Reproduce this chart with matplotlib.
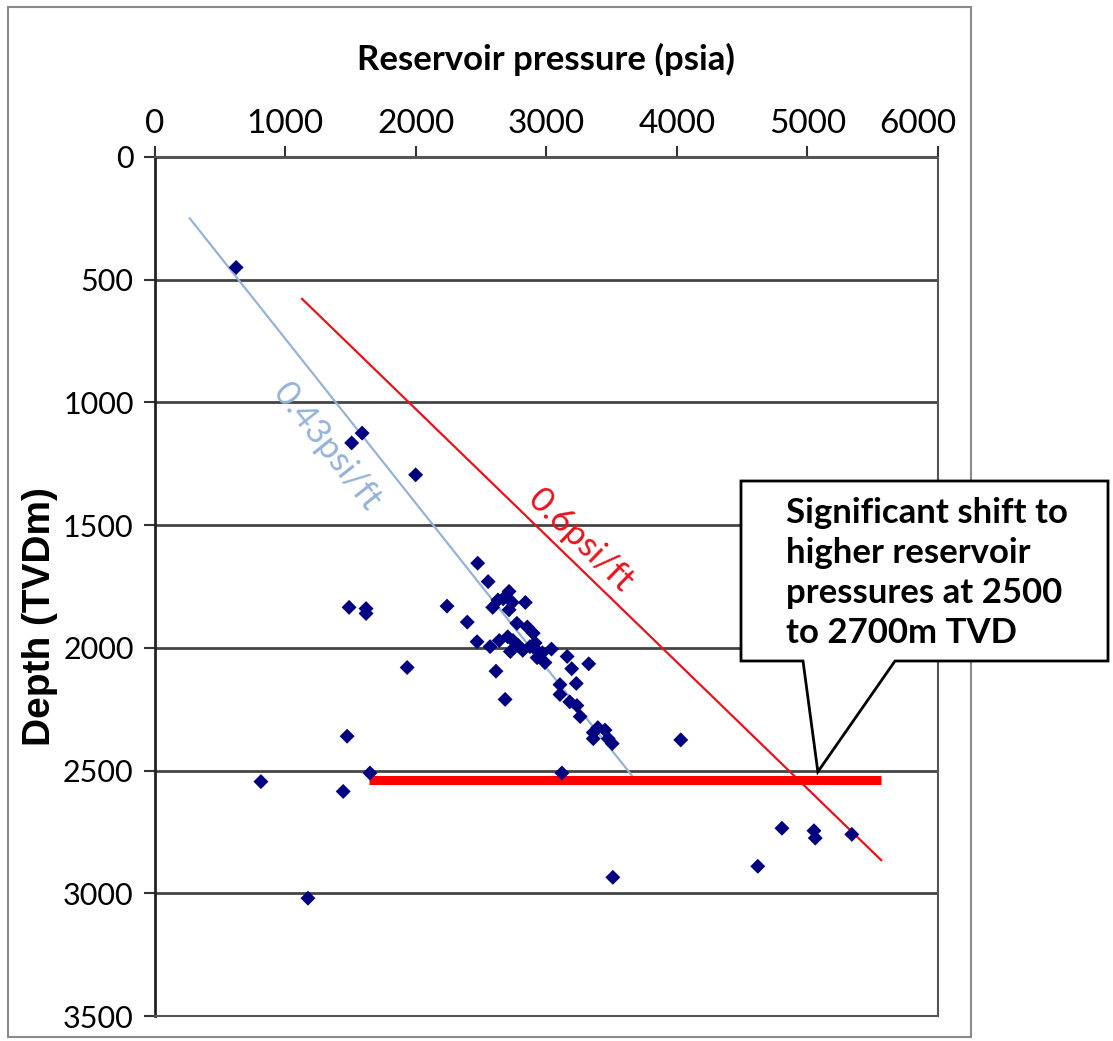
import numpy as np
import matplotlib.pyplot as plt
import matplotlib.transforms as mtransforms
from matplotlib.patches import Polygon, Rectangle

# Пластовий тиск (psia) та глибина (TVD, м) - точки
pressure = [625, 1590, 1510, 2000,
            1490, 1620, 1620, 2240,
            2475, 2555, 2715, 2630, 2670, 2590, 2740, 2715, 2840, 2775, 2855, 2900, 2395,
            2470, 2570, 2640, 2705, 2745, 2785, 2725, 2820, 2875, 2915, 2935, 2930, 2990, 3040, 2970,
            3160, 3195, 3325, 3230, 3105, 3105, 3180, 3235, 3260, 3360, 3395, 3450, 3360, 3475, 3505,
            4030, 2615, 2685, 1935, 1475, 815, 1445, 1650, 3120, 1175, 3510,
            4805, 5050, 5060, 5340, 4620]
depth = [450, 1125, 1165, 1295,
         1835, 1840, 1860, 1830,
         1655, 1730, 1770, 1805, 1800, 1835, 1815, 1845, 1815, 1900, 1915, 1940, 1895,
         1975, 1995, 1970, 1955, 1970, 1990, 2015, 2010, 1995, 1980, 2015, 2040, 2060, 2005, 2020,
         2035, 2085, 2065, 2145, 2150, 2190, 2220, 2235, 2280, 2345, 2325, 2335, 2370, 2370, 2390,
         2375, 2095, 2210, 2080, 2360, 2545, 2585, 2510, 2510, 3020, 2935,
         2735, 2745, 2775, 2760, 2890]

# Градієнти
grad_043 = ([270, 3670], [250, 2530])
grad_06 = ([1130, 5565], [578, 2865])
shift_bar = ([1640, 5560], [2540, 2540])

xticks = [0, 1000, 2000, 3000, 4000, 5000, 6000]
yticks = [0, 500, 1000, 1500, 2000, 2500, 3000, 3500]

W, H = 1113, 1041
font = ['Lato', 'DejaVu Sans']

fig = plt.figure(figsize=(W / 100, H / 100), dpi=100)
ax = fig.add_axes([154.5 / W, 1 - 1016 / H, (938 - 154.5) / W, (1016 - 157) / H])

def px(x, y):
    return (x / W, 1 - y / H)

# рамка навколо діаграми
fig.patches.append(Rectangle(px(8, 1037), 963 / W, 1030 / H, transform=fig.transFigure,
                             fill=False, edgecolor='#8a8a8a', lw=1.5, zorder=0))

ax.set_xlim(0, 6000)
ax.set_ylim(3500, 0)
ax.set_xticks(xticks)
ax.set_yticks(yticks)
ax.xaxis.tick_top()
ax.xaxis.set_label_position('top')
ax.tick_params(axis='both', direction='out', length=8, width=1.5, color='#333333', pad=5)
ax.tick_params(axis='x', labelsize=24)
ax.tick_params(axis='y', labelsize=22, pad=7)
for lab in ax.get_xticklabels() + ax.get_yticklabels():
    lab.set_family(font)
# остання мітка зсунута вліво, як у Excel
last = ax.get_xticklabels()[-1]
last.set_transform(last.get_transform() + mtransforms.ScaledTranslation(-20 / 100, 0, fig.dpi_scale_trans))

ax.grid(axis='y', color='#444444', lw=2)
for s in ax.spines.values():
    s.set_color('#555555')
    s.set_linewidth(1.5)
ax.spines['left'].set_color('#222222')
ax.spines['left'].set_linewidth(2)

ax.set_xlabel('Reservoir pressure (psia)', fontsize=25, fontweight='bold', family=font)
ax.xaxis.set_label_coords(0.5, 1.113)
ax.xaxis.label.set_va('center')
ax.set_ylabel('Depth (TVDm)', fontsize=28, fontweight='bold', family=['Liberation Sans', 'DejaVu Sans'])
ax.yaxis.set_label_coords(-0.146, 0.465)
ax.yaxis.label.set_va('center')

ax.plot(*grad_043, color='#95b3d7', lw=1.6, zorder=2)
ax.plot(*grad_06, color='#e8121c', lw=1.6, zorder=2)
ax.plot(*shift_bar, color='#ff0000', lw=6.5, solid_capstyle='butt', zorder=3)
ax.scatter(pressure, depth, marker='D', s=58, color='#000080', edgecolors='none', zorder=4)

ax.text(1320, 1180, '0.43psi/ft', color='#95b3d7', fontsize=25, family=font,
        rotation=-51.6, rotation_mode='anchor', ha='center', va='center')
ax.text(3260, 1560, '0.6psi/ft', color='#e8121c', fontsize=25, family=font,
        rotation=-44.1, rotation_mode='anchor', ha='center', va='center')

# виноска
tip = ax.transData.transform((5080, 2505))
tip = fig.transFigure.inverted().transform(tip)
verts = [px(741, 481), px(1108, 481), px(1108, 661), px(895, 661), tuple(tip), px(803, 661), px(741, 661)]
fig.patches.append(Polygon(verts, closed=True, transform=fig.transFigure, facecolor='white',
                           edgecolor='black', lw=2, zorder=5))
fig.text(786 / W, 1 - 573 / H, 'Significant shift to\nhigher reservoir\npressures at 2500\nto 2700m TVD',
         fontsize=25, fontweight='bold', family=font, linespacing=1.3,
         ha='left', va='center', zorder=6)

fig.savefig('out.png', dpi=100)
